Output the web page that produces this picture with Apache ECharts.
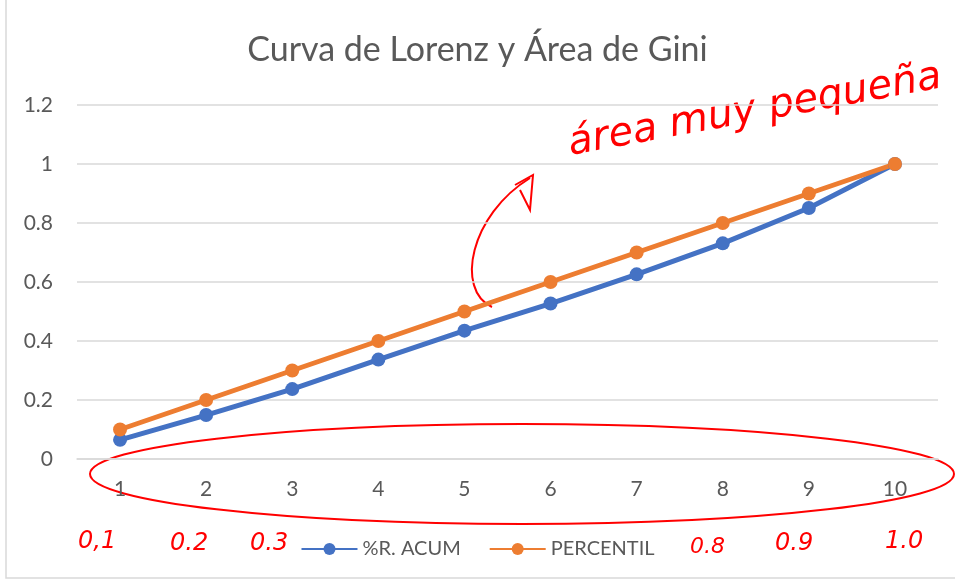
<!DOCTYPE html>
<html>
<head>
<meta charset="utf-8">
<script src="https://cdn.jsdelivr.net/npm/echarts@6/dist/echarts.min.js"></script>
<style>
  html, body { margin: 0; padding: 0; background: #fff; }
  #chart { width: 955px; height: 582px; }
</style>
</head>
<body>
<div id="chart"></div>
<script>
// data
var categories = ["1", "2", "3", "4", "5", "6", "7", "8", "9", "10"];
var acumValues = [0.065, 0.149, 0.237, 0.337, 0.435, 0.527, 0.626, 0.731, 0.851, 1.0];
var percentilValues = [0.1, 0.2, 0.3, 0.4, 0.5, 0.6, 0.7, 0.8, 0.9, 1.0];
var notes = ["0,1", "0.2", "0.3", "0.8", "0.9", "1.0"];

var font = "Lato";
var red = "#ff0000";

var myChart = echarts.init(document.getElementById("chart"));

var noteStyle = function (txt, size) {
  return { text: txt, fill: red, fontSize: size || 24, fontStyle: "italic", fontFamily: "DejaVu Sans" };
};

var tickRich = { t: { fontSize: 21, fontFamily: font, color: "#595959" } };

var option = {
  animation: false,
  textStyle: { fontFamily: font },
  title: {
    text: "Curva de Lorenz y Área de Gini",
    left: "center",
    top: 28,
    textStyle: { fontFamily: font, fontSize: 34, fontWeight: "normal", color: "#595959" }
  },
  legend: {
    bottom: 18,
    left: "center",
    itemWidth: 56,
    itemHeight: 15,
    itemGap: 28,
    textStyle: { fontFamily: font, fontSize: 20, color: "#595959" },
    data: ["%R. ACUM", "PERCENTIL"]
  },
  grid: { left: 77, right: 17, top: 105, bottom: 123 },
  xAxis: {
    type: "category",
    data: categories,
    boundaryGap: true,
    axisLine: { lineStyle: { color: "#d9d9d9", width: 1.5 } },
    axisTick: { show: false },
    axisLabel: {
      margin: 20,
      fontSize: 21,
      fontFamily: font,
      color: "#595959",
      rich: tickRich,
      formatter: function (v) { return "{t|" + v + "}"; }
    }
  },
  yAxis: {
    type: "value",
    min: 0,
    max: 1.2,
    interval: 0.2,
    axisLine: { show: false },
    axisTick: { show: false },
    splitLine: { lineStyle: { color: "#d9d9d9", width: 1.5 } },
    axisLabel: {
      margin: 24,
      fontSize: 21,
      fontFamily: font,
      color: "#595959",
      rich: tickRich,
      formatter: function (v) { return "{t|" + (+v.toFixed(1)) + "}"; }
    }
  },
  series: [
    {
      name: "%R. ACUM",
      type: "line",
      data: acumValues,
      color: "#4472C4",
      symbol: "circle",
      symbolSize: 14,
      lineStyle: { width: 5 }
    },
    {
      name: "PERCENTIL",
      type: "line",
      data: percentilValues,
      color: "#ED7D31",
      symbol: "circle",
      symbolSize: 14,
      lineStyle: { width: 5 }
    }
  ],
  graphic: [
    // chart frame
    {
      type: "rect",
      shape: { x: 6, y: -2, width: 960, height: 580 },
      style: { fill: "none", stroke: "#d9d9d9", lineWidth: 1.5 },
      silent: true
    },
    // hand-drawn ellipse round the x axis
    {
      type: "ellipse",
      shape: { cx: 522, cy: 474, rx: 432, ry: 50 },
      style: { fill: "none", stroke: red, lineWidth: 2 },
      silent: true
    },
    // hand-drawn arrow towards the gap
    {
      type: "bezierCurve",
      shape: { x1: 492, y1: 307, x2: 530, y2: 178, cpx1: 455, cpy1: 290, cpx2: 470, cpy2: 215 },
      style: { stroke: red, lineWidth: 2, fill: "none" },
      silent: true
    },
    {
      type: "polyline",
      shape: { points: [[515, 185], [533, 175], [530, 210], [520, 190]] },
      style: { stroke: red, lineWidth: 2, fill: "none" },
      silent: true
    },
    {
      type: "text",
      x: 565,
      y: 125,
      rotation: 0.18,
      style: noteStyle("área muy pequeña", 40),
      silent: true
    },
    { type: "text", x: 78, y: 530, style: noteStyle(notes[0]), silent: true },
    { type: "text", x: 170, y: 532, style: noteStyle(notes[1]), silent: true },
    { type: "text", x: 250, y: 532, style: noteStyle(notes[2]), silent: true },
    { type: "text", x: 690, y: 536, style: noteStyle(notes[3], 22), silent: true },
    { type: "text", x: 775, y: 532, style: noteStyle(notes[4]), silent: true },
    { type: "text", x: 885, y: 530, style: noteStyle(notes[5]), silent: true }
  ]
};

myChart.setOption(option);
window.addEventListener("resize", function () {
  myChart.resize();
});
</script>
</body>
</html>
